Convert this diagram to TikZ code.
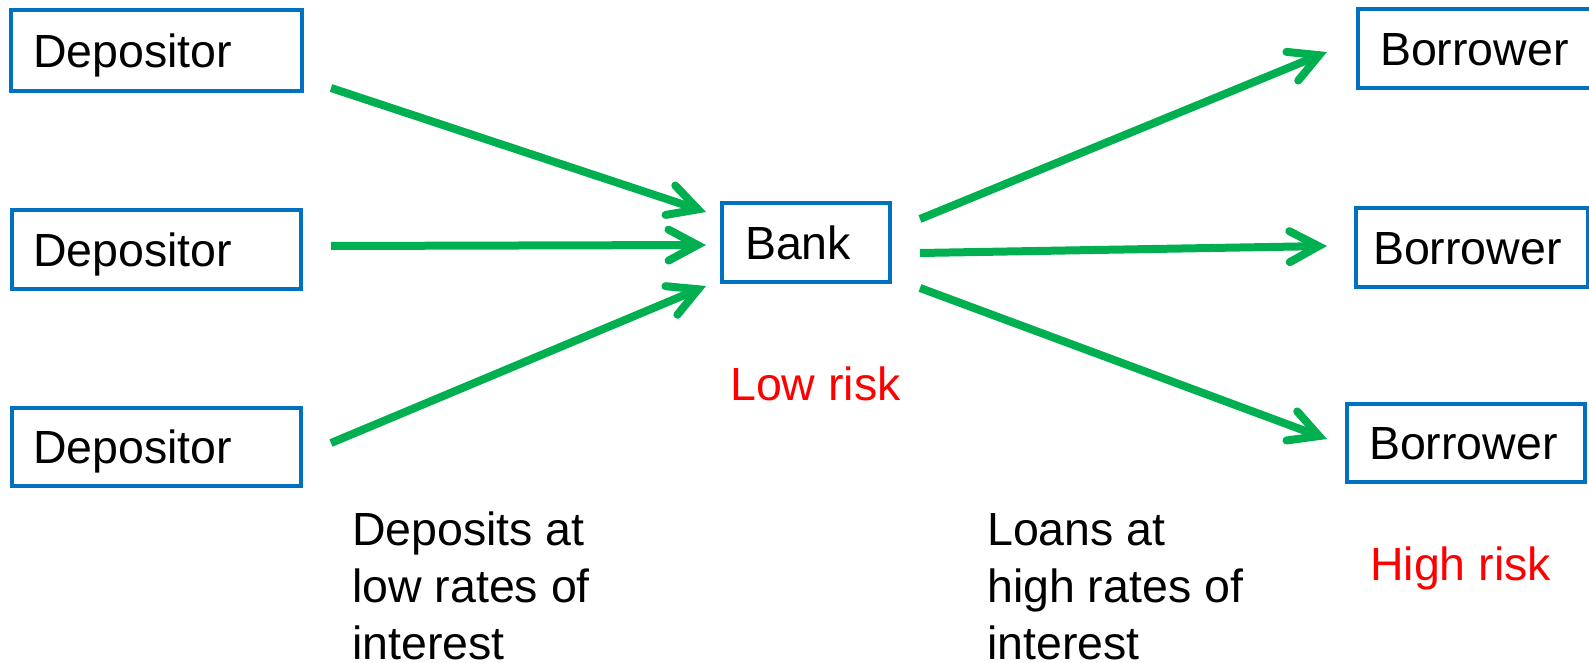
\documentclass[tikz,border=0pt]{standalone}
\usepackage{fontspec}
\setmainfont{Liberation Sans}
\usetikzlibrary{arrows.meta}
\definecolor{boxblue}{RGB}{0,112,192}
\definecolor{arrgreen}{RGB}{0,176,80}
\definecolor{riskred}{RGB}{255,0,0}
\begin{document}
\begin{tikzpicture}[x=1pt,y=-1pt,
  bigfont/.style={font=\fontsize{46.5}{57}\selectfont},
  box/.style={bigfont, draw=boxblue, line width=4pt, rectangle, align=left,
    inner ysep=0pt, text height=33.5pt, text depth=0pt},
  flow/.style={draw=arrgreen, line width=8pt,
    -{Straight Barb[length=29pt, width=31pt, line width=8pt, line cap=round, line join=miter]}},
  risk/.style={bigfont, text=riskred, anchor=base west, inner sep=0pt},
  note/.style={bigfont, anchor=base west, align=left, inner sep=0pt}]
\clip (0,0) rectangle (1589,663);
\fill[white] (0,0) rectangle (1589,663);

% boxes
\node[box, minimum width=291pt, minimum height=81pt, inner xsep=22pt, text width=247pt] (d1) at (156.5,50.5) {Depositor};
\node[box, minimum width=289pt, minimum height=79pt, inner xsep=21pt, text width=247pt] (d2) at (156.5,249.5) {Depositor};
\node[box, minimum width=289pt, minimum height=78pt, inner xsep=21pt, text width=247pt] (d3) at (156.5,447) {Depositor};
\node[box, minimum width=168pt, minimum height=79pt, inner xsep=23pt, text width=122pt] (bank) at (806,242.5) {Bank};
\node[box, minimum width=237pt, minimum height=79pt, inner xsep=22pt, text width=193pt] (b1) at (1476.5,48.5) {Borrower};
\node[box, minimum width=232pt, minimum height=79pt, inner xsep=17pt, text width=198pt] (b2) at (1472,247.5) {Borrower};
\node[box, minimum width=238pt, minimum height=78pt, inner xsep=22pt, text width=194pt] (b3) at (1466,443) {Borrower};

% texts
\node[risk] (low) at (730,400) {Low risk};
\node[risk] (high) at (1370,580) {High risk};
\node[note] (dep) at (352,659) {Deposits at\\low rates of\\interest};
\node[note] (loan) at (987,659) {Loans at\\high rates of\\interest};

% connector ends
\coordinate (d1s) at (331,88);
\coordinate (d2s) at (331,246);
\coordinate (d3s) at (331,443);
\coordinate (k1e) at (706,212);
\coordinate (k2e) at (706,245);
\coordinate (k3e) at (706,286);
\coordinate (k1s) at (920,219);
\coordinate (k2s) at (920,253);
\coordinate (k3s) at (920,288);
\coordinate (b1e) at (1327,52);
\coordinate (b2e) at (1327,246);
\coordinate (b3e) at (1327,439);

\draw[flow] (d1s) -- (k1e);
\draw[flow] (d2s) -- (k2e);
\draw[flow] (d3s) -- (k3e);
\draw[flow] (k1s) -- (b1e);
\draw[flow] (k2s) -- (b2e);
\draw[flow] (k3s) -- (b3e);
\end{tikzpicture}
\end{document}
